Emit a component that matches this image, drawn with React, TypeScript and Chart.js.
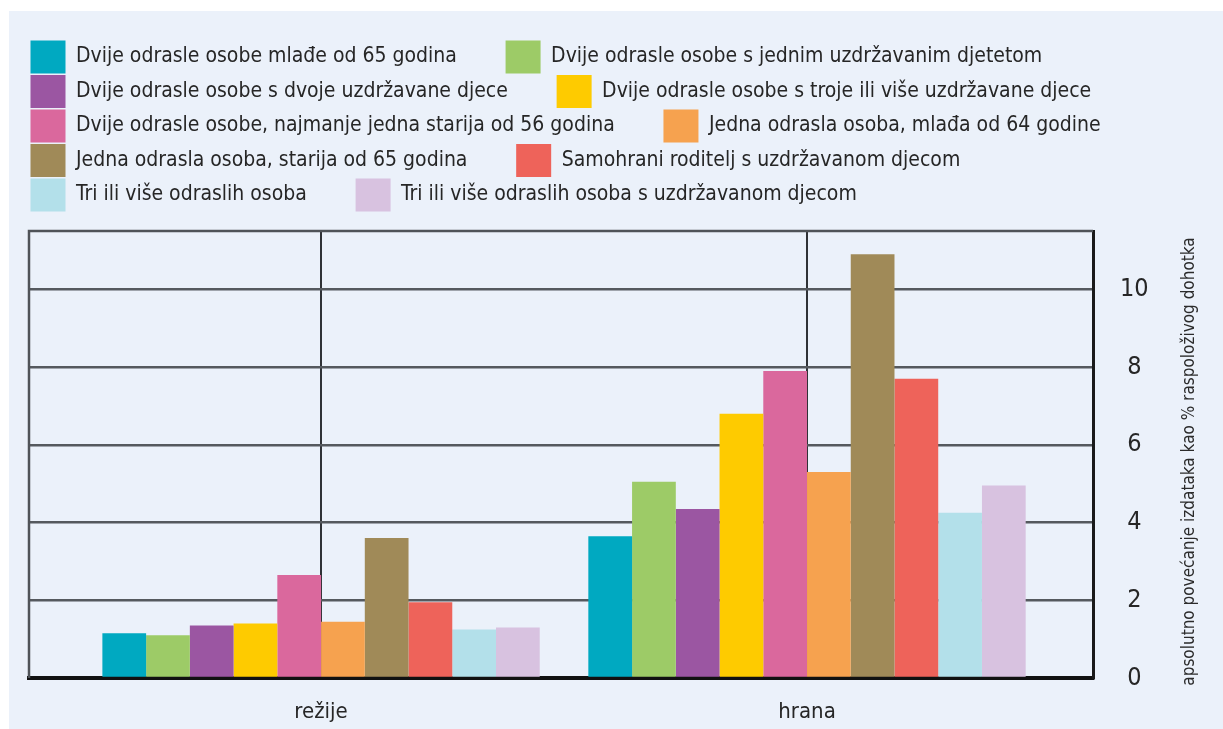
import React, { useEffect, useRef } from 'react';
import { Chart, registerables } from 'chart.js';

Chart.register(...registerables);

const categories = ['režije', 'hrana'];

const seriesLabels = [
  'Dvije odrasle osobe mlađe od 65 godina',
  'Dvije odrasle osobe s jednim uzdržavanim djetetom',
  'Dvije odrasle osobe s dvoje uzdržavane djece',
  'Dvije odrasle osobe s troje ili više uzdržavane djece',
  'Dvije odrasle osobe, najmanje jedna starija od 56 godina',
  'Jedna odrasla osoba, mlađa od 64 godine',
  'Jedna odrasla osoba, starija od 65 godina',
  'Samohrani roditelj s uzdržavanom djecom',
  'Tri ili više odraslih osoba',
  'Tri ili više odraslih osoba s uzdržavanom djecom',
];

const seriesColors = [
  '#00A9C1',
  '#9DCB67',
  '#9B56A2',
  '#FECB00',
  '#DA689D',
  '#F6A24F',
  '#A08A58',
  '#EE635A',
  '#B3E0EA',
  '#D8C2E0',
];

const rezijeValues = [1.15, 1.1, 1.35, 1.4, 2.65, 1.45, 3.6, 1.95, 1.25, 1.3];
const hranaValues = [3.65, 5.05, 4.35, 6.8, 7.9, 5.3, 10.9, 7.7, 4.25, 4.95];

const yTicks = [0, 2, 4, 6, 8, 10];
const yAxisTitle = 'apsolutno povećanje izdataka kao % raspoloživog dohotka';

const FONT = '"DejaVu Sans Condensed", "Liberation Sans Narrow", sans-serif';

const framePlugin = {
  id: 'frame',
  beforeDatasetsDraw(chart: any) {
    const { ctx, chartArea } = chart;
    const { left, top, right, bottom } = chartArea;
    ctx.save();
    ctx.strokeStyle = '#4f5358';
    ctx.lineWidth = 2.5;
    ctx.beginPath();
    ctx.moveTo(left, bottom);
    ctx.lineTo(left, top);
    ctx.lineTo(right, top);
    ctx.stroke();
    ctx.restore();
  },
};

const yTitlePlugin = {
  id: 'yTitleRight',
  afterDraw(chart: any) {
    const { ctx, chartArea } = chart;
    const x = chartArea.right + 97;
    const y = (chartArea.top + chartArea.bottom) / 2 + 7;
    ctx.save();
    ctx.translate(x, y);
    ctx.rotate(-Math.PI / 2);
    ctx.textAlign = 'center';
    ctx.textBaseline = 'middle';
    ctx.fillStyle = '#2b2b2b';
    ctx.font = `17px ${FONT}`;
    ctx.fillText(yAxisTitle, 0, 0);
    ctx.restore();
  },
};

export default function App() {
  const canvasRef = useRef<HTMLCanvasElement | null>(null);

  useEffect(() => {
    if (!canvasRef.current) return;
    const valuesByCategory = [rezijeValues, hranaValues];
    const datasets = seriesLabels.map((label, i) => ({
      label,
      data: categories.map((_, c) => ({ x: c, y: valuesByCategory[c][i] })),
      backgroundColor: seriesColors[i],
      borderWidth: 0,
      categoryPercentage: 0.9,
      barPercentage: 1.0,
    }));

    const chart = new Chart(canvasRef.current, {
      type: 'bar',
      data: { datasets },
      plugins: [framePlugin, yTitlePlugin],
      options: {
        animation: false,
        responsive: true,
        maintainAspectRatio: false,
        layout: { padding: { top: 28, left: 20, right: 0, bottom: 0 } },
        plugins: {
          tooltip: { enabled: false },
          title: {
            display: true,
            text: '',
            weight: 500,
            position: 'top',
            padding: 0,
            font: { size: 9.5, lineHeight: 1 },
          } as any,
          legend: {
            position: 'top',
            align: 'start',
            labels: {
              boxWidth: 35,
              boxHeight: 33,
              padding: 1.5,
              color: '#262626',
              font: { family: FONT, size: 21 },
              generateLabels: (chart: any) =>
                Chart.defaults.plugins.legend.labels
                  .generateLabels(chart)
                  .map((l: any) => ({ ...l, text: l.text + '\u2003\u2003\u2002', lineWidth: 0 })),
            },
          },
        },
        scales: {
          x: {
            type: 'linear',
            offset: false,
            min: -0.601,
            max: 1.5885,
            afterBuildTicks: (scale: any) => {
              scale.ticks = categories.map((_, i) => ({ value: i }));
            },
            afterFit: (scale: any) => {
              scale.height = 51;
            },
            ticks: {
              autoSkip: false,
              padding: 21,
              color: '#262626',
              font: { family: FONT, size: 22 },
              callback: (v: any) => categories[v as number] ?? '',
            },
            grid: {
              offset: false,
              drawTicks: false,
              color: '#2f3236',
              lineWidth: 2,
            },
            border: { display: true, color: '#111', width: 4 },
          },
          y: {
            position: 'right',
            min: 0,
            max: 11.5,
            afterBuildTicks: (scale: any) => {
              scale.ticks = yTicks.map((v) => ({ value: v }));
            },
            afterFit: (scale: any) => {
              scale.width = 130;
            },
            ticks: {
              padding: 27,
              crossAlign: 'center',
              color: '#262626',
              font: { family: FONT, size: 25 },
            },
            grid: {
              drawTicks: false,
              color: '#55595e',
              lineWidth: 2.5,
            },
            border: { display: true, color: '#1a1a1a', width: 3 },
          },
        },
      } as any,
    });

    return () => chart.destroy();
  }, []);

  return (
    <div
      style={{
        position: 'absolute',
        left: 9,
        top: 11,
        width: 1214,
        height: 718,
        background: '#EBF1FA',
      }}
    >
      <canvas ref={canvasRef} />
    </div>
  );
}
